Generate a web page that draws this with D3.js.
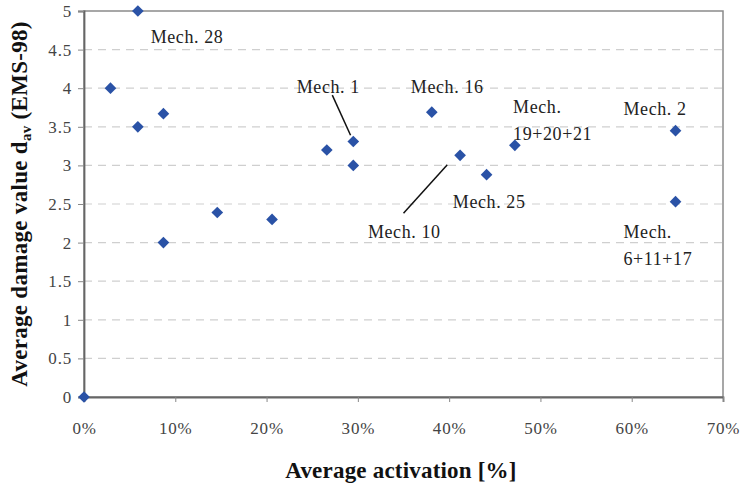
<!DOCTYPE html>
<html><head><meta charset="utf-8">
<script src="https://cdn.jsdelivr.net/npm/d3@7"></script>
<style>
html,body{margin:0;padding:0;background:#fff;}
svg{display:block;}
</style></head>
<body><svg id="c" width="744" height="493"></svg>
<script>
// data
const activation = [0, 5.9, 2.9, 5.9, 8.7, 8.7, 14.6, 20.6, 26.6, 29.5, 29.5, 38.1, 41.2, 44.1, 47.2, 64.8, 64.8];
const damage     = [0, 5.0, 4.0, 3.5, 3.67, 2.0, 2.39, 2.30, 3.20, 3.31, 3.0, 3.69, 3.13, 2.88, 3.26, 3.45, 2.53];
const xTicks = [0, 10, 20, 30, 40, 50, 60, 70];
const yTicks = [0, 0.5, 1, 1.5, 2, 2.5, 3, 3.5, 4, 4.5, 5];
const labelText = ["Mech. 28", "Mech. 1", "Mech. 16", "Mech. 10", "Mech. 25", "Mech.|19+20+21", "Mech. 2", "Mech.|6+11+17"];
const labelX = [7.3, 23.3, 35.8, 31.1, 40.4, 47.0, 59.1, 59.1];
const labelY = [4.585, 3.94, 3.94, 2.06, 2.45, 3.68, 3.65, 2.06];
const leaders = [[27.2, 3.91, 29.2, 3.39], [35.0, 2.38, 39.8, 3.01]];

const FONT = "'Liberation Serif', 'Times New Roman', serif";
const svg = d3.select("#c");
const L = 84, R = 723, T = 11, B = 397;
const x = d3.scaleLinear().domain([0, 70]).range([L, R]);
const y = d3.scaleLinear().domain([0, 5]).range([B, T]);

// gridlines
svg.append("g").selectAll("line").data(yTicks.filter(d => d > 0 && d < 5)).join("line")
  .attr("x1", L).attr("x2", R).attr("y1", d => y(d)).attr("y2", d => y(d))
  .attr("stroke", "#cfcfcf").attr("stroke-width", 1.2).attr("stroke-dasharray", "8,6");

// border
svg.append("rect").attr("x", L).attr("y", T).attr("width", R - L).attr("height", B - T)
  .attr("fill", "none").attr("stroke", "#8a8a8a").attr("stroke-width", 1.5);

// axes
const xAxis = svg.append("g").attr("transform", `translate(0,${B})`)
  .call(d3.axisBottom(x).tickValues(xTicks).tickFormat(d => d + "%").tickSize(5).tickPadding(20));
const yAxis = svg.append("g").attr("transform", `translate(${L},0)`)
  .call(d3.axisLeft(y).tickValues(yTicks).tickFormat(d => String(d)).tickSize(6).tickPadding(6));
[xAxis, yAxis].forEach(a => {
  a.attr("font-family", FONT);
  a.select(".domain").attr("stroke", "#666").attr("stroke-width", 1.8);
  a.selectAll(".tick line").attr("stroke", "#888");
  a.selectAll(".tick text").attr("fill", "#444").attr("font-size", 17).attr("letter-spacing", 0.8)
    .attr("font-family", FONT);
});

// markers
svg.append("g").selectAll("path").data(activation.map((a, i) => [a, damage[i]])).join("path")
  .attr("d", d3.symbol(d3.symbolSquare, 68)())
  .attr("transform", d => `translate(${x(d[0])},${y(d[1])}) rotate(45)`)
  .attr("fill", "#2a52a6");

// leader lines
svg.append("g").selectAll("line").data(leaders).join("line")
  .attr("x1", d => x(d[0])).attr("y1", d => y(d[1])).attr("x2", d => x(d[2])).attr("y2", d => y(d[3]))
  .attr("stroke", "#111").attr("stroke-width", 1.5);

// labels
const lg = svg.append("g");
labelText.forEach((t, i) => {
  const txt = lg.append("text").attr("x", x(labelX[i])).attr("y", y(labelY[i]))
    .attr("font-family", FONT).attr("font-size", 18).attr("letter-spacing", 0.6).attr("fill", "#222");
  t.split("|").forEach((line, j) => {
    txt.append("tspan").attr("x", x(labelX[i])).attr("dy", j === 0 ? 0 : 27).text(line);
  });
});

// axis titles
svg.append("text").attr("x", 401).attr("y", 478).attr("text-anchor", "middle")
  .attr("font-family", FONT).attr("font-size", 23).attr("letter-spacing", 0.2)
  .attr("font-weight", "bold").attr("fill", "#111")
  .text("Average activation [%]");
const yt = svg.append("text").attr("transform", "translate(27,204) rotate(-90)")
  .attr("font-family", FONT).attr("text-anchor", "middle").attr("font-size", 23).attr("letter-spacing", 0.3)
  .attr("font-weight", "bold").attr("fill", "#111");
yt.append("tspan").text("Average damage value d");
yt.append("tspan").attr("font-size", 15).attr("dy", 4).text("av");
yt.append("tspan").attr("dy", -4).text(" (EMS-98)");
</script></body></html>
